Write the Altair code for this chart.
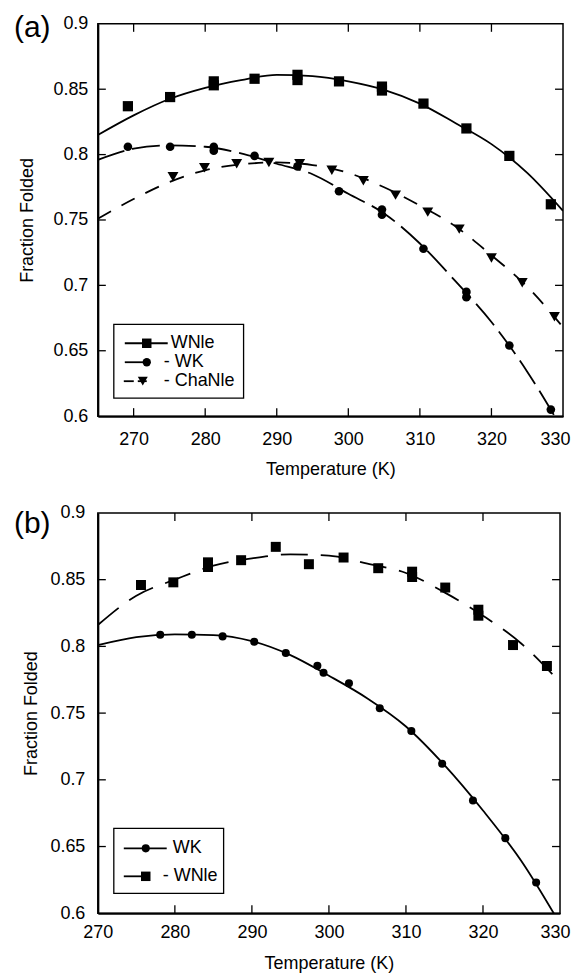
import altair as alt
import pandas as pd

FONT = "Liberation Sans"
FS = 18

# ---------------- panel (a) data ----------------
a_wnle_T = [269.2, 275.1, 281.2, 281.2, 286.9, 292.9, 292.9, 298.7, 304.7, 304.7, 310.5, 316.5, 322.5, 328.3]
a_wnle_v = [0.837, 0.844, 0.856, 0.853, 0.858, 0.861, 0.857, 0.856, 0.852, 0.849, 0.839, 0.820, 0.799, 0.762]

a_wk_T = [269.2, 275.1, 281.2, 281.2, 286.9, 292.9, 298.7, 304.7, 304.7, 310.5, 316.5, 316.5, 322.5, 328.3]
a_wk_v = [0.806, 0.806, 0.806, 0.803, 0.799, 0.791, 0.772, 0.758, 0.754, 0.728, 0.695, 0.691, 0.654, 0.605]

a_cha_T = [275.5, 279.9, 284.4, 288.9, 293.2, 297.7, 302.1, 306.6, 311.1, 315.5, 320.0, 324.3, 328.8]
a_cha_v = [0.783, 0.790, 0.793, 0.794, 0.793, 0.788, 0.780, 0.769, 0.756, 0.743, 0.721, 0.702, 0.676]

a_fit_T = [265, 270, 275, 280, 285, 290, 295, 300, 305, 310, 315, 320, 325, 330]
a_wnle_fit = [0.815, 0.830, 0.8425, 0.851, 0.857, 0.861, 0.860, 0.856, 0.8495, 0.839, 0.824, 0.808, 0.786, 0.757]
a_wk_fit = [0.796, 0.8045, 0.807, 0.806, 0.801, 0.793, 0.785, 0.770, 0.755, 0.732, 0.703, 0.672, 0.634, 0.589]
a_cha_fit = [0.751, 0.766, 0.779, 0.788, 0.7925, 0.794, 0.792, 0.786, 0.775, 0.761, 0.745, 0.723, 0.699, 0.668]

# ---------------- panel (b) data ----------------
b_wnle_T = [275.6, 279.8, 284.3, 284.3, 288.6, 293.1, 297.4, 301.9, 306.4, 310.8, 310.8, 315.1, 319.4, 319.4, 323.9, 328.3]
b_wnle_v = [0.846, 0.848, 0.863, 0.8595, 0.8646, 0.8746, 0.8616, 0.8666, 0.8586, 0.856, 0.852, 0.8441, 0.8275, 0.823, 0.801, 0.7853]

b_wk_T = [278.1, 282.2, 286.2, 290.3, 294.4, 298.5, 299.3, 302.6, 306.6, 310.7, 314.7, 318.7, 322.9, 326.9]
b_wk_v = [0.8087, 0.8087, 0.8075, 0.8035, 0.795, 0.7855, 0.7803, 0.7723, 0.7536, 0.7366, 0.712, 0.6845, 0.6563, 0.623]

b_fit_T = [270, 275, 280, 285, 290, 295, 300, 305, 310, 315, 320, 325, 330]
b_wk_fit = [0.801, 0.807, 0.809, 0.8085, 0.804, 0.7935, 0.778, 0.761, 0.740, 0.711, 0.677, 0.639, 0.592]
b_wnle_fit = [0.816, 0.838, 0.850, 0.8605, 0.866, 0.869, 0.868, 0.862, 0.855, 0.8405, 0.823, 0.802, 0.773]

# ---------------- axes ----------------
a_x_labels = [270, 280, 290, 300, 310, 320, 330]
a_x_ticks = [270, 280, 290, 300, 310, 320]
b_x_labels = [270, 280, 290, 300, 310, 320, 330]
b_x_ticks = [280, 290, 300, 310, 320]
y_labels = [0.6, 0.65, 0.7, 0.75, 0.8, 0.85, 0.9]
y_ticks = [0.65, 0.7, 0.75, 0.8, 0.85]

a_legend_labels = ["WNle", "- WK", "- ChaNle"]
b_legend_labels = ["WK", "- WNle"]


def one(d):
    return pd.DataFrame(d)


def panel(W, H, xdom, xlabels, xticks, series, legend, tag, tagpos, ax):
    xs = alt.Scale(domain=xdom, nice=False, zero=False)
    ys = alt.Scale(domain=[0.6, 0.9], nice=False, zero=False)
    xaxis = alt.Axis(values=xlabels, format="d", ticks=False, grid=False, labelFlush=False,
                     labelOffset={"expr": "datum.value == 330 ? %d : 0" % ax["lastoff"]},
                     labelPadding=ax["xlp"], titlePadding=ax["xtp"], title="Temperature (K)")
    yaxis = alt.Axis(values=y_labels, format="~g", ticks=False, grid=False, labelFlush=False,
                     labelPadding=ax["ylp"], titlePadding=ax["ytp"], title="Fraction Folded")
    X = alt.X("T:Q", scale=xs, axis=xaxis)
    Y = alt.Y("v:Q", scale=ys, axis=yaxis)
    layers = []
    for s in series:
        kw = dict(color="black", strokeWidth=1.8, interpolate="monotone", clip=True)
        if s["dash"]:
            kw["strokeDash"] = s["dash"]
        layers.append(alt.Chart(one({"T": s["fitT"], "v": s["fit"]})).mark_line(**kw).encode(x=X, y=Y))
    for s in series:
        layers.append(alt.Chart(one({"T": s["T"], "v": s["v"]})).mark_point(
            shape=s["shape"], size=s["size"], filled=True, color="black", opacity=1).encode(x=X, y=Y))
    # inward ticks
    xt = one({"T": xticks})
    yt = one({"v": y_ticks})
    rk = dict(color="black", strokeWidth=1.3)
    layers.append(alt.Chart(xt).mark_rule(**rk).encode(x=X, y=alt.value(H), y2=alt.value(H - 8)))
    layers.append(alt.Chart(xt).mark_rule(**rk).encode(x=X, y=alt.value(0), y2=alt.value(8)))
    layers.append(alt.Chart(yt).mark_rule(**rk).encode(y=Y, x=alt.value(0), x2=alt.value(8)))
    layers.append(alt.Chart(yt).mark_rule(**rk).encode(y=Y, x=alt.value(W), x2=alt.value(W - 8)))
    # legend
    bx1, bx2, by1, by2 = legend["box"]
    dummy = one({"k": [0]})
    layers.append(alt.Chart(dummy).mark_rect(fill="white", stroke="black", strokeWidth=1.3).encode(
        x=alt.value(bx1), x2=alt.value(bx2), y=alt.value(by1), y2=alt.value(by2)))
    for r in legend["rows"]:
        for (s1, s2) in r["segs"]:
            layers.append(alt.Chart(dummy).mark_rule(color="black", strokeWidth=1.8).encode(
                x=alt.value(s1), x2=alt.value(s2), y=alt.value(r["y"])))
        layers.append(alt.Chart(dummy).mark_point(shape=r["shape"], size=r["size"], filled=True,
                                                  color="black", opacity=1).encode(
            x=alt.value(r["mx"]), y=alt.value(r["y"])))
        layers.append(alt.Chart(one({"label": [r["label"]]})).mark_text(
            align="left", baseline="middle", font=FONT, fontSize=FS, color="black").encode(
            x=alt.value(r["tx"]), y=alt.value(r["y"]), text="label:N"))
    layers.append(alt.Chart(one({"label": [tag]})).mark_text(
        align="left", baseline="middle", font=FONT, fontSize=30, color="black").encode(
        x=alt.value(tagpos[0]), y=alt.value(tagpos[1]), text="label:N"))
    return alt.layer(*layers).properties(width=W, height=H)


WA, HA = 466, 393
WB, HB = 463, 401

series_a = [
    dict(T=a_wnle_T, v=a_wnle_v, fitT=a_fit_T, fit=a_wnle_fit, shape="square", size=105, dash=None),
    dict(T=a_wk_T, v=a_wk_v, fitT=a_fit_T, fit=a_wk_fit, shape="circle", size=75, dash=[28, 8]),
    dict(T=a_cha_T, v=a_cha_v, fitT=a_fit_T, fit=a_cha_fit, shape="triangle-down", size=120, dash=[15, 12]),
]
legend_a = dict(box=(16, 146, 301, 375), rows=[
    dict(label=a_legend_labels[0], y=320, segs=[(27, 70)], mx=49, shape="square", size=90, tx=73),
    dict(label=a_legend_labels[1], y=339, segs=[(27, 46)], mx=49, shape="circle", size=70, tx=66),
    dict(label=a_legend_labels[2], y=358, segs=[(26, 36), (40, 49)], mx=45, shape="triangle-down", size=100, tx=66),
])

series_b = [
    dict(T=b_wk_T, v=b_wk_v, fitT=b_fit_T, fit=b_wk_fit, shape="circle", size=65, dash=None),
    dict(T=b_wnle_T, v=b_wnle_v, fitT=b_fit_T, fit=b_wnle_fit, shape="square", size=100, dash=[27, 13]),
]
legend_b = dict(box=(16, 126, 316, 381), rows=[
    dict(label=b_legend_labels[0], y=336, segs=[(26, 69)], mx=48, shape="circle", size=65, tx=75),
    dict(label=b_legend_labels[1], y=364, segs=[(26, 44)], mx=48, shape="square", size=90, tx=65),
])

pa = panel(WA, HA, [265, 330], a_x_labels, a_x_ticks, series_a, legend_a, "(a)", (-84, 4),
           dict(xlp=14, xtp=12, ylp=10, ytp=16, lastoff=-8))
pb = panel(WB, HB, [270, 330], b_x_labels, b_x_ticks, series_b, legend_b, "(b)", (-84, 11),
           dict(xlp=10, xtp=13, ylp=13, ytp=9, lastoff=-5))

chart = alt.vconcat(pa, pb, spacing=24).properties(
    padding={"left": 5, "top": 3, "right": 0, "bottom": 0}
).configure(font=FONT).configure_axis(
    labelFontSize=FS, titleFontSize=FS, titleFontWeight="normal", labelColor="black",
    titleColor="black", domainColor="black", domainWidth=2, labelFont=FONT, titleFont=FONT
).configure_view(stroke="black", strokeWidth=1.5)

chart.save("out.html", embed_options={"renderer": "svg", "actions": False})
